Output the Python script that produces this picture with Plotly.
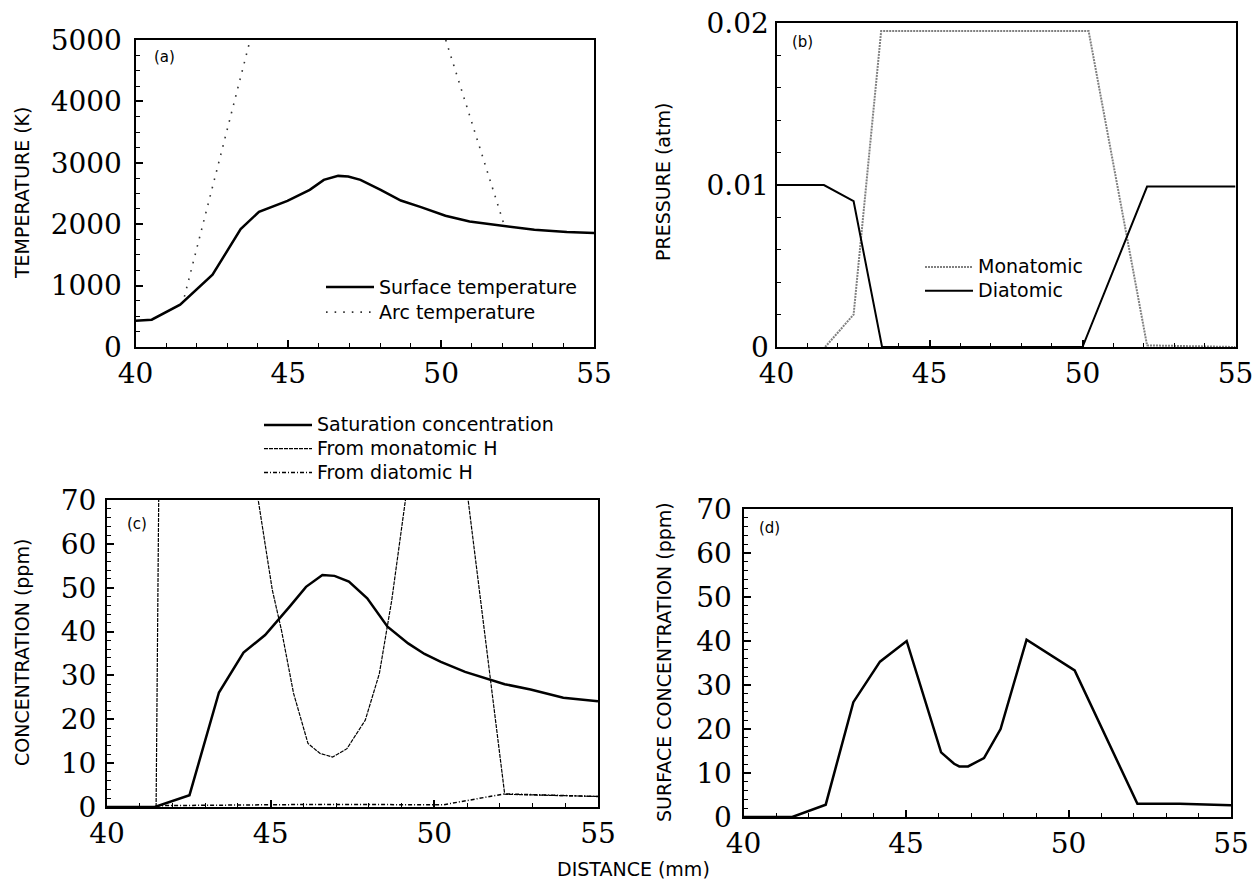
import plotly.graph_objects as go

W, H = 1260, 881

# ---------------- data ----------------
# (a) temperatures
surf_x = [40, 40.53, 41.46, 42.52, 43.44, 44.04, 44.97, 45.70, 46.16, 46.63, 46.96, 47.36,
          48.02, 48.68, 49.34, 50.14, 50.93, 51.99, 53.05, 54.11, 55]
surf_T = [428, 445, 689, 1177, 1920, 2202, 2380, 2560, 2722, 2787, 2777, 2722,
          2560, 2386, 2278, 2137, 2044, 1974, 1909, 1871, 1855]
arc_x = [41.6, 43.75, None, 50.15, 52.06]
arc_T = [820, 5000, None, 5000, 1990]

# (b) pressures
mono_p_x = [41.59, 42.52, 43.42, 50.2, 52.11, 55]
mono_p = [0.0, 0.0020, 0.0195, 0.0195, 0.0001, 0.0]
di_p_x = [40, 41.55, 42.52, 43.45, 50.0, 52.11, 55]
di_p = [0.0100, 0.0100, 0.0090, 0.0, 0.0, 0.0099, 0.0099]

# (c) concentrations
sat_x = [40, 41.46, 42.52, 43.42, 44.17, 44.83, 45.58, 46.08, 46.58, 46.95, 47.39, 47.95,
         48.57, 49.2, 49.7, 50.2, 50.94, 51.69, 52.15, 52.94, 53.94, 55]
sat_c = [0, 0, 2.7, 26.1, 35.2, 39.2, 45.7, 50.2, 52.9, 52.7, 51.4, 47.6,
         41.1, 37.3, 34.9, 33.1, 30.8, 29.1, 28.0, 26.8, 24.9, 24.1]
mono_c_x = [41.5, 42.52, 44.2, 45.05, 45.33, 45.7, 46.14, 46.51, 46.89, 47.33, 47.89,
            48.32, 48.7, 49.3, 50.2, 52.15, 55]
mono_c = [0, 900, 90, 49.5, 40.3, 25.9, 14.5, 12.2, 11.4, 13.3, 19.8,
          30.4, 47.2, 80, 120, 2.9, 2.4]
di_c_x = [41.5, 43.4, 46.6, 50.27, 52.15, 55]
di_c = [0.3, 0.4, 0.6, 0.5, 3.0, 2.4]

# (d) surface concentration
surfc_x = [40, 41.5, 42.53, 43.38, 44.2, 45.02, 46.08, 46.48, 46.64, 46.91, 47.4, 47.91,
           48.71, 50.19, 52.12, 53.42, 55]
surfc = [0, 0, 2.8, 26.1, 35.3, 40.0, 14.7, 12.1, 11.5, 11.5, 13.4, 20.0,
         40.3, 33.3, 3.0, 3.0, 2.65]

x_range = [40, 55]
x_ticks = [40, 45, 50, 55]

# ---------------- layout helpers ----------------
def px_x(p):
    return p / W

def px_y(p):
    return 1 - p / H

SERIF = "DejaVu Serif"
SANS = "DejaVu Sans"
LEG_TEXT = 19

def big(name):
    return f"<span style='font-size:{LEG_TEXT}px'>{name}</span>"

def axis(domain, anchor, rng, tickvals, ticktext, minor_dtick, standoff=0):
    return dict(
        domain=domain, anchor=anchor, range=rng, autorange=False,
        tickmode="array", tickvals=tickvals, ticktext=ticktext,
        showline=True, linecolor="black", linewidth=2, mirror=True,
        ticks="inside", ticklen=7, tickwidth=1.5, tickcolor="black",
        minor=dict(dtick=minor_dtick, ticks="inside", ticklen=4, tickwidth=1, tickcolor="black"),
        showgrid=False, zeroline=False, automargin=False,
        ticklabeloverflow="allow", ticklabelstandoff=standoff,
        tickfont=dict(family=SERIF, size=28, color="black"),
    )

# panel pixel boxes (left, right, top, bottom)
boxes = {
    "a": (135.5, 594, 40, 347),
    "b": (776.5, 1235.5, 23, 347),
    "c": (107, 598, 500, 807),
    "d": (743.5, 1231, 509, 817),
}

def dom(box):
    l, r, t, b = box
    return [px_x(l), px_x(r)], [px_y(b), px_y(t)]

fig = go.Figure()

# (a)
fig.add_trace(go.Scatter(x=surf_x, y=surf_T, mode="lines", name=big("Surface temperature"),
                         line=dict(color="black", width=2.5), xaxis="x", yaxis="y", legend="legend"))
fig.add_trace(go.Scatter(x=arc_x, y=arc_T, mode="lines", name=big("Arc temperature"),
                         line=dict(color="#333333", width=1.6, dash="1.6px,7px"), xaxis="x", yaxis="y",
                         legend="legend", connectgaps=False))
# (b)
fig.add_trace(go.Scatter(x=mono_p_x, y=mono_p, mode="lines", name=big("Monatomic"),
                         line=dict(color="#808080", width=2, dash="2px,1px"), xaxis="x2", yaxis="y2",
                         legend="legend2"))
fig.add_trace(go.Scatter(x=di_p_x, y=di_p, mode="lines", name=big("Diatomic"),
                         line=dict(color="black", width=2), xaxis="x2", yaxis="y2", legend="legend2"))
# (c)
fig.add_trace(go.Scatter(x=sat_x, y=sat_c, mode="lines", name=big("Saturation concentration"),
                         line=dict(color="black", width=2.5), xaxis="x3", yaxis="y3", legend="legend3"))
fig.add_trace(go.Scatter(x=mono_c_x, y=mono_c, mode="lines", name=big("From monatomic H"),
                         line=dict(color="black", width=1.2, dash="4px,1px"), xaxis="x3", yaxis="y3",
                         legend="legend3"))
fig.add_trace(go.Scatter(x=di_c_x, y=di_c, mode="lines", name=big("From diatomic H"),
                         line=dict(color="black", width=1.5, dash="4px,2px,1px,2px"), xaxis="x3", yaxis="y3",
                         legend="legend3"))
# (d)
fig.add_trace(go.Scatter(x=surfc_x, y=surfc, mode="lines", name="Surface concentration",
                         line=dict(color="black", width=2.5), xaxis="x4", yaxis="y4", showlegend=False))

xa, ya = dom(boxes["a"])
xb, yb = dom(boxes["b"])
xc, yc = dom(boxes["c"])
xd, yd = dom(boxes["d"])

def legend_box(x, y, size):
    return dict(x=px_x(x), y=px_y(y), xanchor="left", yanchor="top",
                bgcolor="rgba(0,0,0,0)", font=dict(family=SANS, size=size, color="black"),
                itemwidth=48, tracegroupgap=0)

xt = [str(v) for v in x_ticks]
conc_ticks = list(range(0, 71, 10))
conc_text = [str(v) for v in conc_ticks]
fig.update_layout(
    width=W, height=H,
    margin=dict(l=0, r=0, t=0, b=0, autoexpand=False),
    paper_bgcolor="white", plot_bgcolor="white",
    font=dict(family=SANS, color="black"),
    xaxis=axis(xa, "y", x_range, x_ticks, xt, 1),
    yaxis=axis(ya, "x", [0, 5000], [0, 1000, 2000, 3000, 4000, 5000],
               ["0", "1000", "2000", "3000", "4000", "5000"], 250, standoff=6),
    xaxis2=axis(xb, "y2", x_range, x_ticks, xt, 1),
    yaxis2=axis(yb, "x2", [0, 0.02], [0, 0.01, 0.02], ["0", "0.01", "0.02"], 0.002),
    xaxis3=axis(xc, "y3", x_range, x_ticks, xt, 1),
    yaxis3=axis(yc, "x3", [0, 70], conc_ticks, conc_text, 2, standoff=3),
    xaxis4=axis(xd, "y4", x_range, x_ticks, xt, 1),
    yaxis4=axis(yd, "x4", [0, 70], conc_ticks, conc_text, 2, standoff=4),
    legend=legend_box(321, 269.5, 17),
    legend2=legend_box(920, 250, 16),
    legend3=legend_box(259, 408, 16),
    showlegend=True,
)

ann = []
def add_text(text, x, y, size, angle=0, family=SANS):
    ann.append(dict(text=text, x=px_x(x), y=px_y(y), xref="paper", yref="paper",
                    showarrow=False, textangle=angle, xanchor="center", yanchor="middle",
                    font=dict(family=family, size=size, color="black")))

add_text("TEMPERATURE (K)", 22, 193, 19, -90)
add_text("PRESSURE (atm)", 663, 182, 19, -90)
add_text("CONCENTRATION (ppm)", 22, 653, 19, -90)
add_text("SURFACE CONCENTRATION (ppm)", 664, 662, 19, -90)
add_text("DISTANCE (mm)", 633, 869, 19)
add_text("(a)", 164, 57, 15)
add_text("(b)", 802, 42, 15)
add_text("(c)", 137, 524, 15)
add_text("(d)", 769, 528, 15)
fig.update_layout(annotations=ann)

fig.write_html("out.html", config={"displayModeBar": False},
               post_script="document.body.style.margin='0px';")
